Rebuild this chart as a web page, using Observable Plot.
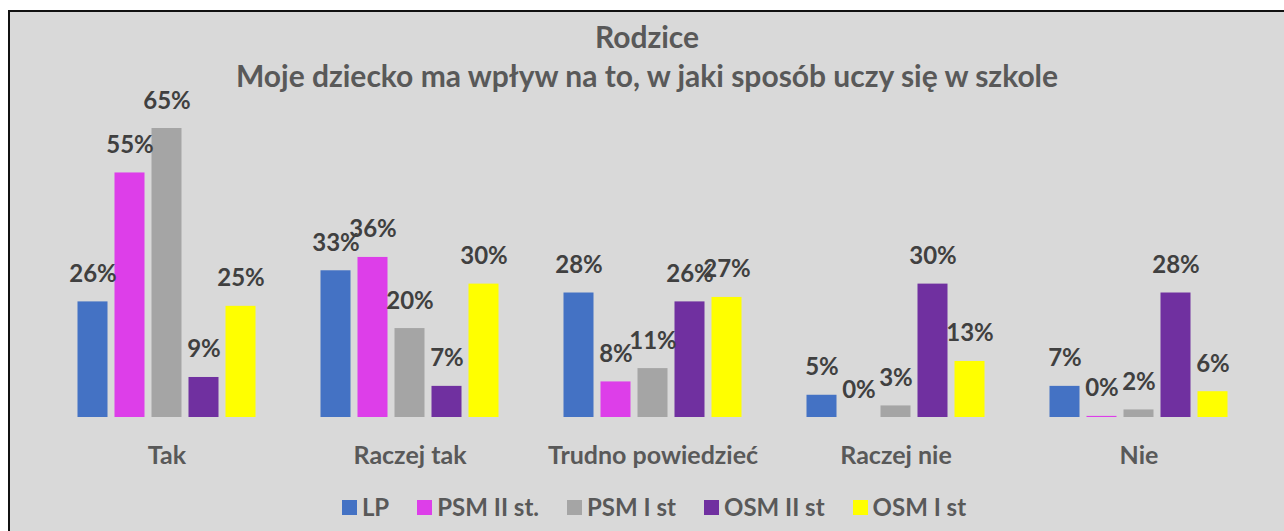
<!DOCTYPE html>
<html>
<head>
<meta charset="utf-8">
<script src="https://cdn.jsdelivr.net/npm/d3@7"></script>
<script src="https://cdn.jsdelivr.net/npm/@observablehq/plot@0.6"></script>
<style>
  html, body { margin: 0; padding: 0; background: #ffffff; overflow: hidden; width: 1284px; height: 531px; }
  #box {
    position: absolute; left: 8px; top: 10px;
    width: 1300px; height: 540px;
    background: #d9d9d9;
    border-left: 2px solid #111; border-top: 2px solid #111;
    font-family: Lato, "Open Sans", sans-serif; font-weight: 700;
    overflow: hidden;
  }
  #title { padding-top: 5px; width: 1274px; text-align: center; color: #595959; font-size: 30px; line-height: 39px; }
  #chart svg { display: block; }
  #legend { width: 1274px; box-sizing: border-box; padding-left: 14px; display: flex; justify-content: center; align-items: center; margin-top: 12px;
            color: #595959; font-size: 24px; line-height: 30px; }
  .item { display: flex; align-items: center; margin: 0 14px; }
  .sw { width: 15px; height: 15px; margin-right: 5px; }
</style>
</head>
<body>
<div id="box">
  <div id="title"><div>Rodzice</div><div>Moje dziecko ma wpływ na to, w jaki sposób uczy się w szkole</div></div>
  <div id="chart"></div>
  <div id="legend"></div>
</div>
<script>
const categories = ["Tak", "Raczej tak", "Trudno powiedzieć", "Raczej nie", "Nie"];
const seriesNames = ["LP", "PSM II st.", "PSM I st", "OSM II st", "OSM I st"];
const seriesColors = ["#4472c4", "#dd3ee9", "#a5a5a5", "#7030a0", "#ffff00"];
const LP      = [26, 33, 28, 5, 7];
const PSM_II  = [55, 36, 8, 0, 0.25];
const PSM_I   = [65, 20, 11, 2.6, 1.7];
const OSM_II  = [9, 7, 26, 30, 28];
const OSM_I   = [25, 30, 27, 12.6, 5.8];

const valuesBySeries = [LP, PSM_II, PSM_I, OSM_II, OSM_I];
const rows = [];
categories.forEach((c, i) => {
  seriesNames.forEach((s, j) => rows.push({cat: c, series: s, value: valuesBySeries[j][i]}));
});

const chart = Plot.plot({
  width: 1274,
  height: 385,
  marginLeft: 34.5,
  marginRight: 24.5,
  marginTop: 33,
  marginBottom: 63,
  style: {background: "transparent", fontFamily: "Lato, 'Open Sans', sans-serif", overflow: "visible"},
  fx: {domain: categories, padding: 0, axis: null},
  x: {domain: seriesNames, paddingInner: 0.2, paddingOuter: 0.84, axis: null},
  y: {domain: [0, 65], axis: null},
  color: {domain: seriesNames, range: seriesColors},
  marks: [
    Plot.barY(rows, {fx: "cat", x: "series", y: "value", fill: "series"}),
    Plot.text(rows, {fx: "cat", x: "series", y: "value", text: d => Math.round(d.value) + "%",
      lineAnchor: "bottom", dy: -20, fontSize: 24, fontWeight: 700, fill: "#404040"}),
    Plot.text(categories, {fx: d => d, text: d => d, frameAnchor: "bottom", lineAnchor: "bottom",
      dy: 46, fontSize: 25, fontWeight: 700, fill: "#595959"})
  ]
});
document.getElementById("chart").appendChild(chart);

const legend = document.getElementById("legend");
seriesNames.forEach((s, j) => {
  const it = document.createElement("div");
  it.className = "item";
  const sw = document.createElement("span");
  sw.className = "sw";
  sw.style.background = seriesColors[j];
  const t = document.createElement("span");
  t.textContent = s;
  it.appendChild(sw); it.appendChild(t);
  legend.appendChild(it);
});
</script>
</body>
</html>
